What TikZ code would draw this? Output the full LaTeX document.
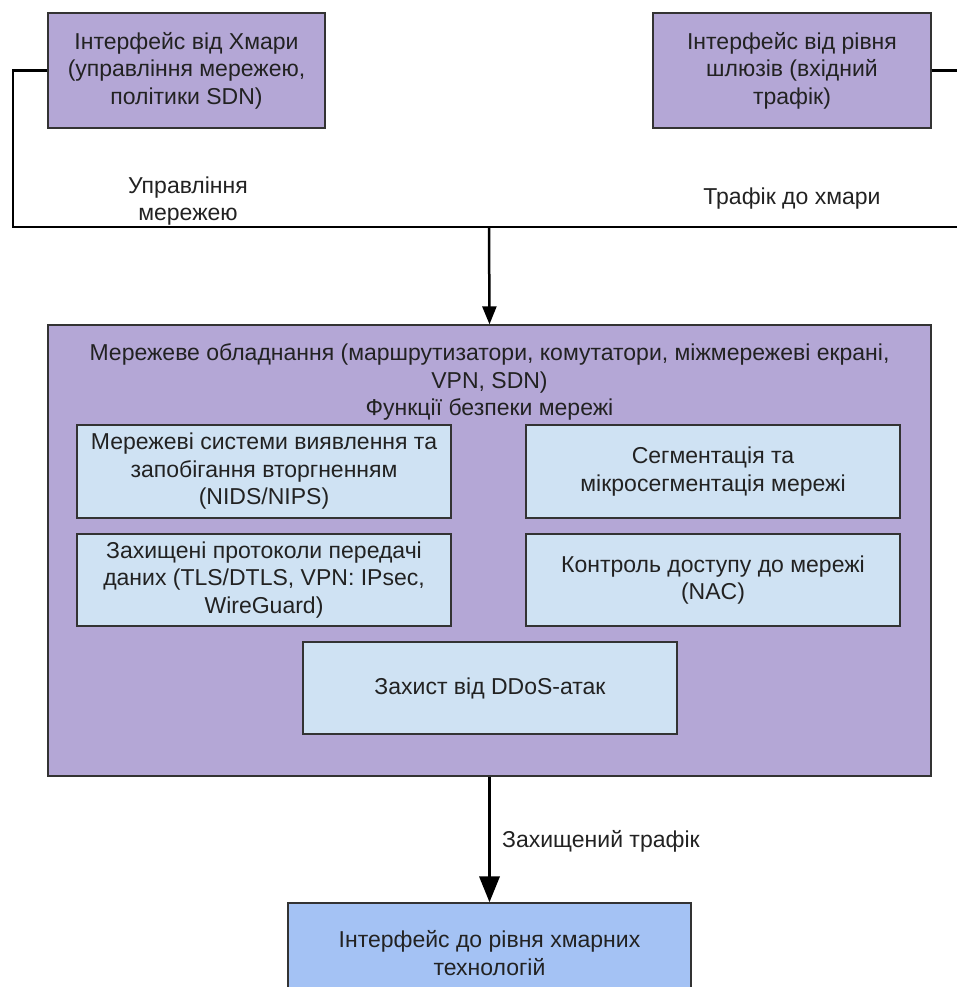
\documentclass[tikz,border=0pt]{standalone}
\usepackage{fontspec}
\setmainfont{Liberation Sans}
\usetikzlibrary{arrows.meta}
\definecolor{purp}{HTML}{B4A7D6}
\definecolor{lblue}{HTML}{CFE2F3}
\definecolor{cblue}{HTML}{A4C2F4}
\definecolor{bord}{HTML}{333333}
\definecolor{txt}{HTML}{222222}
\tikzset{
  box/.style={draw=bord, line width=1.3pt, align=center, inner sep=0pt, text=txt,
    font=\fontsize{23}{27.5}\selectfont},
  outerbox/.style={box, fill=purp, minimum width=277pt, minimum height=115pt},
  innerbox/.style={box, fill=lblue, minimum width=374pt, minimum height=92pt},
  conn/.style={draw=black, line width=2.5pt},
  arr/.style={conn, -{Triangle[width=14pt,length=18pt]}},
  bigarr/.style={draw=black, line width=3.5pt, -{Triangle[width=20pt,length=26pt]}},
  lbl/.style={align=center, text=txt, font=\fontsize{23}{27.5}\selectfont, inner sep=0pt}
}
\begin{document}
\begin{tikzpicture}[x=1pt,y=-1pt]
\useasboundingbox (0,0) rectangle (957,987);
\clip (0,0) rectangle (957,987);
\node[outerbox] (tl) at (186.5,70.5) {Інтерфейс від Хмари\\(управління мережею,\\політики SDN)};
\node[outerbox, minimum width=278pt] (tr) at (792,70.5) {Інтерфейс від рівня\\шлюзів (вхідний\\трафік)};
\node[box, fill=purp, minimum width=883pt, minimum height=451pt] (main) at (489.5,550.5) {};
\node[lbl] (title) at (489.5,382) {Мережеве обладнання (маршрутизатори, комутатори, міжмережеві екрані,\\VPN, SDN)\\Функції безпеки мережі};
\node[innerbox, minimum height=93pt] (ids) at (264,471.5) {Мережеві системи виявлення та\\запобігання вторгненням\\(NIDS/NIPS)};
\node[innerbox, minimum height=93pt] (seg) at (713,471.5) {Сегментація та\\мікросегментація мережі};
\node[innerbox] (prot) at (264,580) {Захищені протоколи передачі\\даних (TLS/DTLS, VPN: IPsec,\\WireGuard)};
\node[innerbox] (nac) at (713,580) {Контроль доступу до мережі\\(NAC)};
\node[innerbox] (ddos) at (490,688) {Захист від DDoS-атак};
\node[box, fill=cblue, minimum width=403pt, minimum height=100pt] (bot) at (489.5,953) {Інтерфейс до рівня хмарних\\технологій};
\coordinate (lc) at (13,227);
\coordinate (rc) at (960,227);
\coordinate (rt) at (960,70.5);
\coordinate (j) at (489,227);
\draw[conn] (tl.west) -| (lc) -- (rc);
\draw[conn] (tr.east) -- (rt);
\draw[arr] (j) -- (main.north);
\draw[bigarr] (main.south) -- (bot.north);
\node[lbl] (l1) at (188,201) {Управління\\мережею};
\node[lbl] (l2) at (792,199) {Трафік до хмари};
\node[lbl, anchor=west] (l3) at (502,841) {Захищений трафік};
\end{tikzpicture}
\end{document}
